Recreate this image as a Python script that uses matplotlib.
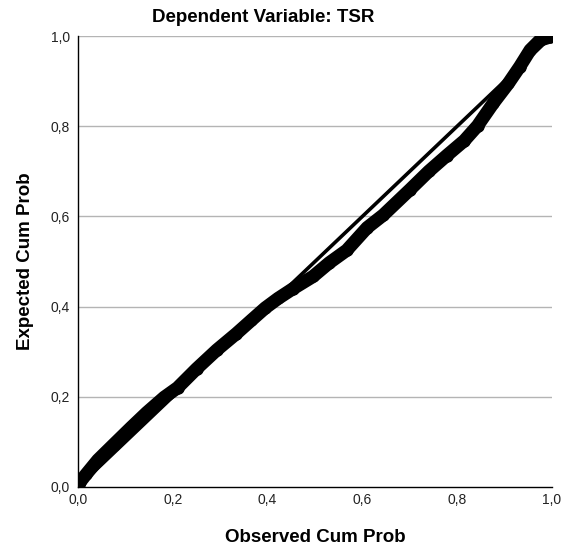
import matplotlib
matplotlib.use("Agg")
import matplotlib.pyplot as plt

plt.rcParams['font.family'] = ['Liberation Sans', 'DejaVu Sans']

title = "Dependent Variable: TSR"
x_label = "Observed Cum Prob"
y_label = "Expected Cum Prob"
tick_values = [0.0, 0.2, 0.4, 0.6, 0.8, 1.0]
tick_labels = ["0,0", "0,2", "0,4", "0,6", "0,8", "1,0"]

observed = [0.000, 0.005, 0.017, 0.042, 0.075, 0.112, 0.145, 0.182, 0.210,
            0.250, 0.293, 0.334, 0.366, 0.395, 0.422, 0.454, 0.496, 0.530,
            0.567, 0.610, 0.644, 0.700, 0.740, 0.778, 0.815, 0.843, 0.876,
            0.908, 0.932, 0.954, 0.975, 0.996, 1.000]
expected = [0.000, 0.012, 0.028, 0.060, 0.094, 0.132, 0.165, 0.199, 0.220,
            0.262, 0.304, 0.340, 0.370, 0.397, 0.418, 0.440, 0.467, 0.497,
            0.525, 0.575, 0.603, 0.659, 0.700, 0.735, 0.768, 0.801, 0.851,
            0.895, 0.932, 0.969, 0.991, 0.998, 1.000]
ref_line = [0.0, 1.0]

fig = plt.figure(figsize=(5.61, 5.50), dpi=100)
ax = fig.add_axes([78/561, 1 - 487/550, 474/561, 451/550])

for v in tick_values[1:]:
    ax.axhline(v, color='#b4b4b4', lw=1.0, zorder=1)

ax.plot(ref_line, ref_line, color='black', lw=2.6, zorder=2, solid_capstyle='butt')
ax.plot(observed, expected, color='black', lw=9.5, zorder=3,
        solid_capstyle='round', solid_joinstyle='round')
ax.plot(observed, expected, linestyle='none', marker='o', ms=8,
        markerfacecolor='black', markeredgecolor='black', zorder=4)

ax.set_xlim(0, 1)
ax.set_ylim(0, 1)
ax.set_xticks(tick_values)
ax.set_xticklabels(tick_labels)
ax.set_yticks(tick_values)
ax.set_yticklabels(tick_labels)
ax.tick_params(length=0, labelsize=10, colors='#222222', pad=4)
ax.tick_params(axis='y', pad=6)

for s in ['top', 'right']:
    ax.spines[s].set_visible(False)
for s in ['left', 'bottom']:
    ax.spines[s].set_color('black')
    ax.spines[s].set_linewidth(1.0)

fig.text(263/561, 1 - 18/550, title, ha='center', va='center',
         fontsize=13.5, fontweight='bold')
fig.text(315/561, 1 - 537/550, x_label, ha='center', va='center',
         fontsize=13.5, fontweight='bold')
fig.text(26/561, 1 - 261/550, y_label, ha='center', va='center',
         fontsize=13.5, fontweight='bold', rotation=90)

fig.savefig("out.png", dpi=100)
